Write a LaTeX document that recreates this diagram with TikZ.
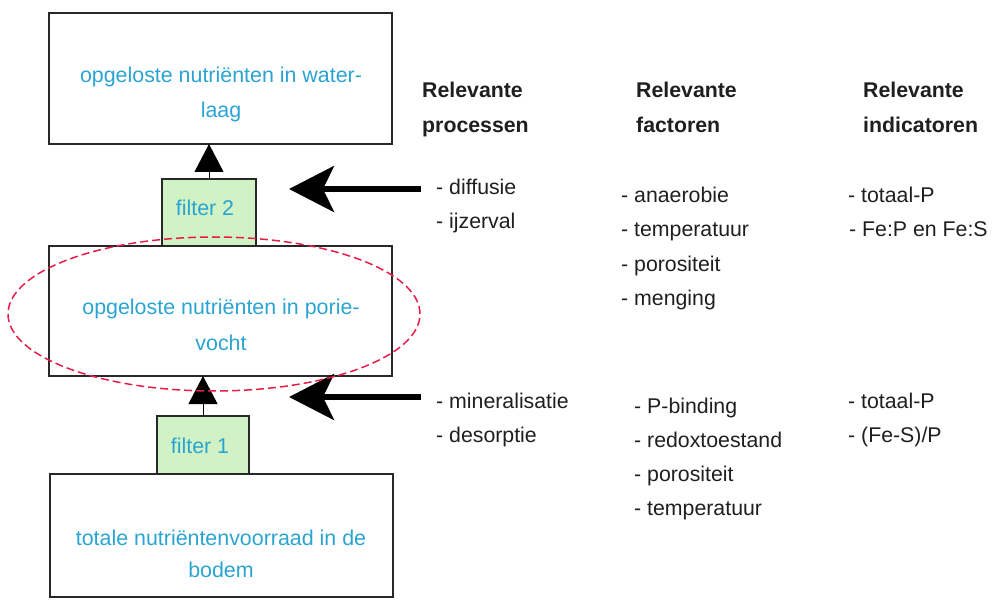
\documentclass[tikz,border=0pt]{standalone}
\usepackage{fontspec}
\setmainfont{Liberation Sans}
\usetikzlibrary{arrows.meta,shapes.geometric}
\definecolor{boxblue}{RGB}{42,164,210}
\definecolor{filtergreen}{RGB}{208,242,196}
\definecolor{ellred}{RGB}{232,28,72}
\definecolor{framegray}{RGB}{40,40,40}
\begin{document}
\begin{tikzpicture}[x=1pt,y=-1pt,
 box/.style={draw=framegray, line width=1.8pt, minimum width=343pt, inner sep=0pt, outer sep=0pt},
 filterbox/.style={draw=framegray, fill=filtergreen, line width=1.8pt, inner sep=0pt, outer sep=0pt},
 bluetxt/.style={text=boxblue, font=\fontsize{21.4}{25}\selectfont, anchor=base, inner sep=0pt},
 item/.style={font=\fontsize{21.3}{25}\selectfont, anchor=base west, inner sep=0pt, text=black!88},
 head/.style={item, font=\fontsize{21.3}{25}\selectfont\bfseries},
 varrow/.style={line width=1pt, draw=black, -{Triangle[length=28pt,width=29pt]}},
 bigarrow/.style={line width=5.5pt, draw=black, -{Stealth[length=45pt,width=46pt,inset=11pt]}},
 poreell/.style={draw=ellred, ellipse, line width=1.5pt, dash pattern=on 8pt off 4pt, minimum width=412pt, minimum height=154pt, inner sep=0pt},
]
\useasboundingbox (0,0) rectangle (998,601);

% boxes
\node[box, minimum height=131pt] (top) at (220.5,78.5) {};
\node[box, minimum height=130pt] (mid) at (220.5,311) {};
\node[box, minimum height=123pt] (bot) at (221.5,535.5) {};
\node[filterbox, minimum width=94pt, minimum height=67pt] (filter2) at (209,212.5) {};
\node[filterbox, minimum width=92pt, minimum height=58pt] (filter1) at (203,445) {};

% box texts
\node[bluetxt] (t1a) at (221,83) {opgeloste nutriënten in water-};
\node[bluetxt] (t1b) at (221,118) {laag};
\node[bluetxt] (t2a) at (221,315) {opgeloste nutriënten in porie-};
\node[bluetxt] (t2b) at (221,351) {vocht};
\node[bluetxt] (t3a) at (221,545) {totale nutriëntenvoorraad in de};
\node[bluetxt] (t3b) at (221,577) {bodem};
\node[bluetxt] (f2) at (205,216) {filter 2};
\node[bluetxt] (f1) at (200,453) {filter 1};

% vertical arrows
\draw[varrow] (filter2.north) -- (filter2.north |- top.south);
\draw[varrow] (filter1.north) -- (filter1.north |- mid.south);

% big arrows
\coordinate (p1) at (421,189);
\coordinate (q1) at (289,189);
\coordinate (p2) at (421,397);
\coordinate (q2) at (289,397);
\draw[bigarrow] (p1) -- (q1);
\draw[bigarrow] (p2) -- (q2);

% ellipse
\node[poreell] (pore) at (214,314) {};

% headers
\node[head] (h1a) at (422,98) {Relevante};
\node[head] (h1b) at (422,133) {processen};
\node[head] (h2a) at (636,98) {Relevante};
\node[head] (h2b) at (636,133) {factoren};
\node[head] (h3a) at (863,98) {Relevante};
\node[head] (h3b) at (863,133) {indicatoren};

% processes
\node[item] (pr1) at (436,195) {- diffusie};
\node[item] (pr2) at (436,229) {- ijzerval};
\node[item] (pr3) at (436,408) {- mineralisatie};
\node[item] (pr4) at (436,442) {- desorptie};

% factors
\node[item] (fa1) at (621,203) {- anaerobie};
\node[item] (fa2) at (621,237) {- temperatuur};
\node[item] (fa3) at (621,272) {- porositeit};
\node[item] (fa4) at (621,306) {- menging};
\node[item] (fb1) at (634,413) {- P-binding};
\node[item] (fb2) at (634,447) {- redoxtoestand};
\node[item] (fb3) at (634,481) {- porositeit};
\node[item] (fb4) at (634,515) {- temperatuur};

% indicators
\node[item] (ia1) at (848,203) {- totaal-P};
\node[item] (ia2) at (849,237) {- Fe:P en Fe:S};
\node[item] (ib1) at (848,408) {- totaal-P};
\node[item] (ib2) at (848,442) {- (Fe-S)/P};
\end{tikzpicture}
\end{document}
